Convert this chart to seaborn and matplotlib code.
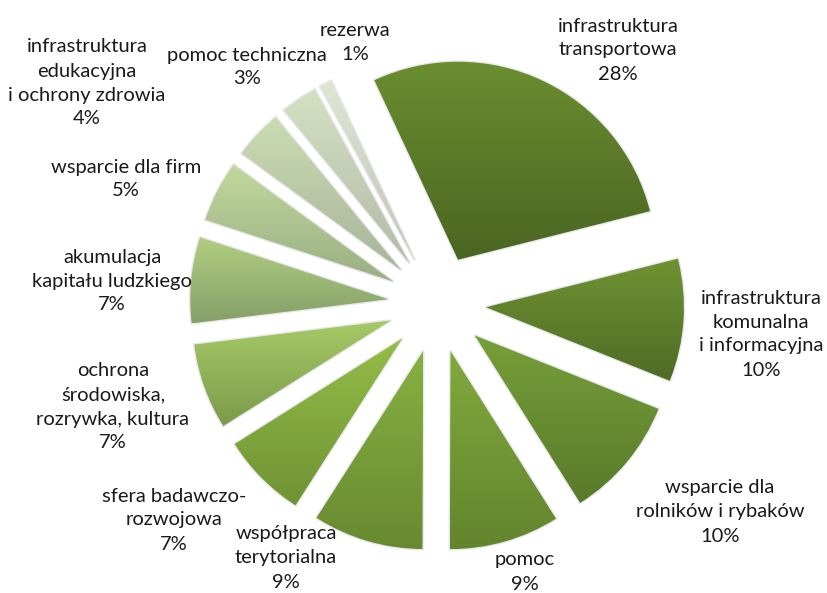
import numpy as np
import matplotlib
matplotlib.use("Agg")
import matplotlib.pyplot as plt
import seaborn as sns
from matplotlib.colors import to_rgb
from matplotlib.patches import PathPatch

# Budget allocation by area (percent)
categories = [
    "infrastruktura\ntransportowa",
    "infrastruktura\nkomunalna\ni informacyjna",
    "wsparcie dla\nrolników i rybaków",
    "pomoc",
    "współpraca\nterytorialna",
    "sfera badawczo-\nrozwojowa",
    "ochrona\nśrodowiska,\nrozrywka, kultura",
    "akumulacja\nkapitału ludzkiego",
    "wsparcie dla firm",
    "infrastruktura\nedukacyjna\ni ochrony zdrowia",
    "pomoc techniczna",
    "rezerwa",
]
shares = [28, 10, 10, 9, 9, 7, 7, 7, 5, 4, 3, 1]

# Gradient colours per slice: top edge, bottom edge
top_colors = ["#6b8e30", "#6f9333", "#76a03a", "#80aa3e", "#87b142", "#93bd48",
              "#a6ca66", "#b2ce82", "#c1d89c", "#cbdcb2", "#d4e1c2", "#dee7d4"]
bottom_colors = ["#4a6522", "#4f6b25", "#587a2a", "#62852d", "#678a30", "#6f9334",
                 "#7c9a4a", "#84a068", "#9aae84", "#a9b49c", "#b4baa8", "#c0c4b8"]

# Label anchor points in pixels (x from left, y from top)
label_xy = [(618, 50), (761, 334), (720, 512), (525, 572), (286, 558), (174, 520),
            (113, 407), (112, 281), (126, 179), (87, 83), (247, 67), (355, 42)]

sns.set_theme(style="white")
plt.rcParams["font.family"] = ["Lato", "DejaVu Sans"]

W, H = 827, 593
fig = plt.figure(figsize=(W / 100, H / 100), dpi=100)
ax = fig.add_axes([0, 0, 1, 1])

R = 198
cx, cy = 437, H - 304
wedges, _ = ax.pie(
    shares,
    radius=R,
    center=(cx, cy),
    startangle=115,
    counterclock=False,
    explode=[49] * len(shares),
    wedgeprops=dict(linewidth=0, edgecolor="none"),
)

for w, ctop, cbot in zip(wedges, top_colors, bottom_colors):
    verts = w.get_path().vertices
    x0, x1 = verts[:, 0].min(), verts[:, 0].max()
    y0, y1 = verts[:, 1].min(), verts[:, 1].max()
    t = np.linspace(0, 1, 256)[:, None]
    grad = (1 - t) * np.array(to_rgb(cbot)) + t * np.array(to_rgb(ctop))
    img = np.repeat(grad[:, None, :], 2, axis=1)
    # soft shadow edge
    ax.add_patch(PathPatch(w.get_path(), facecolor="none",
                           edgecolor=(0.5, 0.5, 0.5, 0.18), lw=2.0, zorder=0.5))
    im = ax.imshow(img, extent=(x0, x1, y0, y1), origin="lower",
                   interpolation="bilinear", aspect="auto", zorder=1)
    im.set_clip_path(w)
    w.set_facecolor("none")

for name, val, (lx, ly) in zip(categories, shares, label_xy):
    ax.text(lx, H - ly, f"{name}\n{val}%", ha="center", va="center",
            fontsize=14.5, color="#1a1a1a", linespacing=1.5)

ax.set_xlim(0, W)
ax.set_ylim(0, H)
ax.set_aspect("auto")
ax.axis("off")

fig.savefig("out.png", dpi=100, facecolor="white")
